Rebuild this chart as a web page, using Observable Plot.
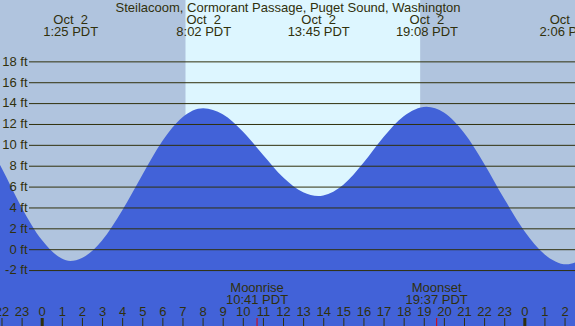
<!DOCTYPE html>
<html><head><meta charset="utf-8">
<script src="https://cdn.jsdelivr.net/npm/d3@7"></script>
<script src="https://cdn.jsdelivr.net/npm/@observablehq/plot@0.6"></script>
<style>
html,body{margin:0;padding:0;background:#b0c4de;overflow:hidden;}
svg text{white-space:pre;}
</style></head><body><div id="chart"></div>
<script>
const title = "Steilacoom, Cormorant Passage, Puget Sound, Washington";
// tide height (ft) vs hours since midnight Oct 2
const tideHours = [-3, -2, -1, 0, 1, 1.417, 2, 3, 4, 5, 6, 7, 8.033, 9, 10, 11, 12, 13, 13.75, 14, 15, 16, 17, 18, 19.133, 20, 21, 22, 23, 24, 25, 26.1, 27];
const tideFeet  = [11.0, 7.8, 4.0, 0.9, -0.9, -1.13, -0.85, 0.84, 3.71, 7.12, 10.36, 12.64, 13.5, 12.92, 11.28, 9.05, 6.89, 5.45, 5.1, 5.15, 6.18, 8.28, 10.75, 12.74, 13.65, 13.09, 11.15, 8.2, 4.83, 1.75, -0.48, -1.45, -0.8];
// high / low events
const eventHours = [1.417, 8.033, 13.75, 19.133, 26.1];
const eventDates = ["Oct  2", "Oct  2", "Oct  2", "Oct  2", "Oct  3"];
const eventTimes = ["1:25 PDT", "8:02 PDT", "13:45 PDT", "19:08 PDT", "2:06 PDT"];
// sun
const sunrise = 7.15, sunset = 18.82;
// moon
const moonHours = [10.683, 19.617];
const moonNames = ["Moonrise", "Moonset"];
const moonTimes = ["10:41 PDT", "19:37 PDT"];
// axes
const yTicks = [-2, 0, 2, 4, 6, 8, 10, 12, 14, 16, 18];
const hourTicks = [-2, -1, 0, 1, 2, 3, 4, 5, 6, 7, 8, 9, 10, 11, 12, 13, 14, 15, 16, 17, 18, 19, 20, 21, 22, 23, 24, 25, 26];
const hourLabels = ["22","23","0","1","2","3","4","5","6","7","8","9","10","11","12","13","14","15","16","17","18","19","20","21","22","23","0","1","2"];

const xDomain = [-2.074, 26.52];
const yDomain = [-7.36, 23.88];
const tide = tideHours.map((h, i) => ({h, ft: tideFeet[i]}));
const events = eventHours.map((h, i) => ({h, label: eventDates[i] + "\n" + eventTimes[i]}));
const moons = moonHours.map((h, i) => ({h, label: moonNames[i] + "\n" + moonTimes[i]}));
const hours = hourTicks.map((h, i) => ({h, label: hourLabels[i], mid: hourLabels[i] === "0"}));

const ink = "#30300c";
const font = {fontSize: 13, lineHeight: 0.93, fill: ink};

const chart = Plot.plot({
  width: 575, height: 326,
  marginTop: 0, marginRight: 0, marginBottom: 0, marginLeft: 0,
  style: {background: "#b0c4de", fontFamily: "'Liberation Sans', Arial, sans-serif", overflow: "hidden"},
  x: {type: "linear", domain: xDomain, axis: null},
  y: {type: "linear", domain: yDomain, axis: null},
  marks: [
    Plot.rect([{a: sunrise, b: sunset}], {x1: "a", x2: "b", fill: "#ddf6ff"}),
    Plot.area(tide, {x1: "h", y1: () => yDomain[0], y2: "ft", fill: "#4262d8", curve: "monotone-x", clip: true}),
    Plot.ruleY(yTicks, {stroke: ink, strokeWidth: 1, insetLeft: 29}),
    Plot.text(yTicks, {y: d => d, text: d => `${d} ft`, frameAnchor: "left", dx: 27, textAnchor: "end", ...font}),
    Plot.text([title], {frameAnchor: "top", dy: 3, lineAnchor: "top", text: d => d, ...font}),
    Plot.text(events, {x: "h", text: "label", frameAnchor: "top", dy: 15, lineAnchor: "top", ...font}),
    Plot.text(moons, {x: "h", text: "label", frameAnchor: "top", dy: 283, lineAnchor: "top", ...font}),
    Plot.text(hours, {x: "h", text: "label", frameAnchor: "top", dy: 307, lineAnchor: "top", ...font}),
    Plot.ruleX(hours, {x: "h", stroke: ink, strokeWidth: d => d.mid ? 3 : 1, insetTop: 318}),
    Plot.ruleX(moonHours, {x: d => d, stroke: "#e00000", strokeWidth: 1, insetTop: 318})
  ]
});
document.getElementById("chart").appendChild(chart);
</script>
</body></html>
